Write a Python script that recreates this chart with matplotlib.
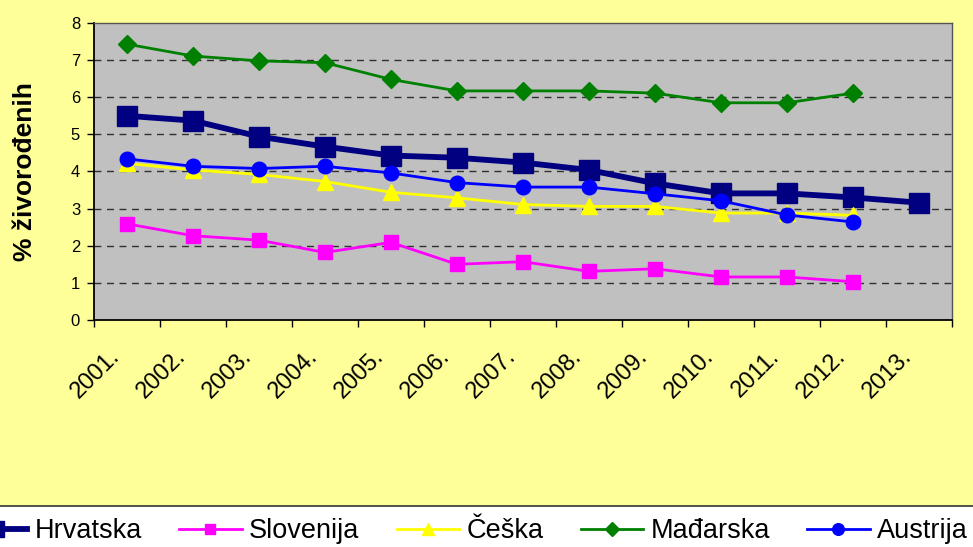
#!/usr/bin/env python3

"""
plot.py  |  share of live births by country, 2001 - 2013
"""

# %% load libraries
import numpy as np
import matplotlib
matplotlib.use('Agg')
import matplotlib.pyplot as plt
import matplotlib.transforms as mtransforms
from matplotlib.patches import Rectangle


# %% data
years = ['2001.', '2002.', '2003.', '2004.', '2005.', '2006.', '2007.',
         '2008.', '2009.', '2010.', '2011.', '2012.', '2013.']
hrvatska = [5.50, 5.37, 4.94, 4.67, 4.43, 4.37, 4.24, 4.04, 3.68, 3.41,
            3.41, 3.30, 3.16]
slovenija = [2.59, 2.27, 2.15, 1.82, 2.09, 1.50, 1.57, 1.31, 1.38, 1.16,
             1.16, 1.03]
ceska = [4.22, 4.04, 3.92, 3.73, 3.44, 3.29, 3.11, 3.06, 3.06, 2.88,
         2.88, 2.82]
madarska = [7.43, 7.11, 6.98, 6.93, 6.48, 6.17, 6.17, 6.17, 6.11, 5.85,
            5.85, 6.11]
austrija = [4.34, 4.14, 4.08, 4.14, 3.96, 3.70, 3.58, 3.58, 3.40, 3.21,
            2.83, 2.64]
y_ticks = [0, 1, 2, 3, 4, 5, 6, 7, 8]


# %% figure
plt.rcParams['font.family'] = ['Liberation Sans', 'DejaVu Sans']

fig = plt.figure(figsize=(9.73, 5.47), dpi=100, facecolor='white')
# --+ yellow chart area
bg = Rectangle((-0.01, 0.075), 1.02, 1.0, transform=fig.transFigure,
               facecolor='#FFFF99', edgecolor='#333333', lw=1.2, zorder=-10)
fig.patches.append(bg)

ax = fig.add_axes([0.0966, 0.415, 0.8818, 0.543])
ax.set_facecolor('#C0C0C0')

x = np.arange(len(years))
# --+ series
ax.plot(x[:len(hrvatska)], hrvatska, color='#000080', lw=4.2, marker='s',
        ms=15, label='Hrvatska', zorder=3)
ax.plot(x[:len(slovenija)], slovenija, color='#FF00FF', lw=2, marker='s',
        ms=9.5, label='Slovenija', zorder=3)
ax.plot(x[:len(ceska)], ceska, color='#FFFF00', lw=2, marker='^',
        ms=11, label='Češka', zorder=3)
ax.plot(x[:len(madarska)], madarska, color='#008000', lw=2, marker='D',
        ms=9, label='Mađarska', zorder=3)
ax.plot(x[:len(austrija)], austrija, color='#0000FF', lw=2, marker='o',
        ms=10.5, label='Austrija', zorder=3)

# --+ axes
ax.set_xlim(-0.5, len(years) - 0.5)
ax.set_ylim(0, 8)
ax.set_yticks(y_ticks)
ax.set_yticklabels([str(v) for v in y_ticks], fontsize=12)
ax.tick_params(axis='y', direction='out', length=5, width=1, pad=5)
ax.set_xticks(np.arange(-0.5, len(years)), labels=[])
ax.tick_params(axis='x', which='major', direction='out', length=5, width=1)
ax.set_xticks(x, minor=True)
ax.set_xticklabels(years, minor=True, fontsize=17, rotation=45,
                   ha='right', va='center', rotation_mode='anchor')
ax.tick_params(axis='x', which='minor', length=0, pad=24)
offset = mtransforms.ScaledTranslation(-11 / 100, 0, fig.dpi_scale_trans)
for lab in ax.get_xticklabels(minor=True):
    lab.set_transform(lab.get_transform() + offset)

# --+ grid
for v in y_ticks[1:-1]:
    ax.axhline(v, color='#303030', lw=1, ls=(0, (5, 4)), zorder=1)

# --+ spines
for s in ['top', 'right']:
    ax.spines[s].set_color('#555555')
    ax.spines[s].set_linewidth(1)
for s in ['left', 'bottom']:
    ax.spines[s].set_color('black')
    ax.spines[s].set_linewidth(1.3)

ax.set_ylabel('% živorođenih', fontsize=19, fontweight='bold')
ax.yaxis.set_label_coords(-0.066, 0.5)

# --+ legend
fig.legend(loc='center left', bbox_to_anchor=(-0.036, 0.029), ncol=5,
           frameon=False, fontsize=19.5, handlelength=2.3,
           handletextpad=0.27, columnspacing=1.38, borderpad=0,
           borderaxespad=0, numpoints=1, markerscale=0.8)

# --+ save plot
plt.savefig('out.png', dpi=100, facecolor='white')
